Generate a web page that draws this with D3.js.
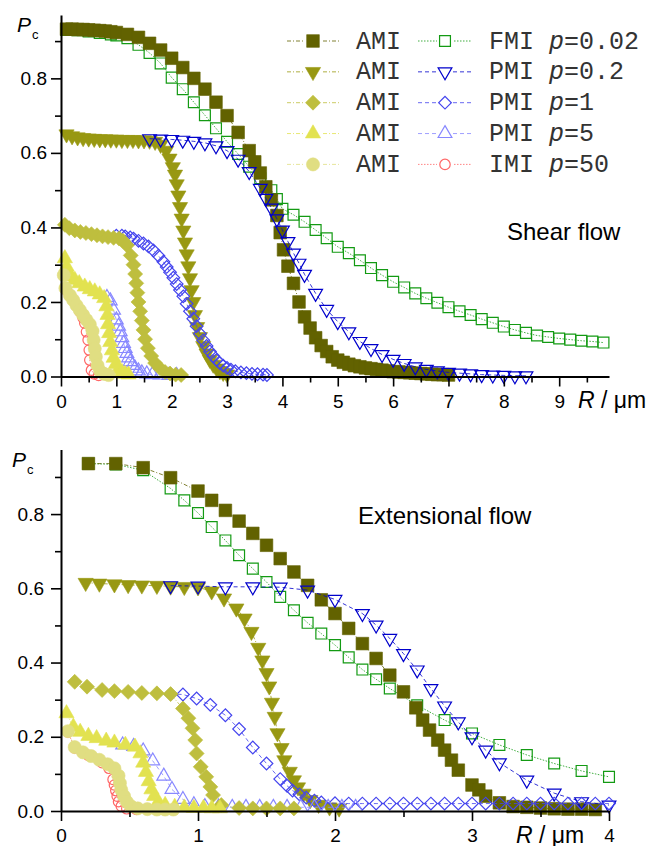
<!DOCTYPE html>
<html>
<head>
<meta charset="utf-8">
<script src="https://cdn.jsdelivr.net/npm/d3@7"></script>
<style>
body { margin: 0; background: #fff; }
text { font-family: "Liberation Sans", Arial, sans-serif; fill: #000; }
</style>
</head>
<body>
<div id="chart"></div>
<script>

// ---- shear flow data, [R (um), Pc] ----
var shearAmiSq = [[0.1,0.932],[0.2,0.932],[0.3,0.931],[0.4,0.931],[0.5,0.930],[0.6,0.929],[0.7,0.928],[0.8,0.927],[0.9,0.925],[1.0,0.923],[1.2,0.918],[1.4,0.910],[1.6,0.894],[1.8,0.876],[2.0,0.854],[2.2,0.829],[2.4,0.800],[2.6,0.771],[2.8,0.736],[3.0,0.700],[3.2,0.655],[3.4,0.606],[3.5,0.576],[3.6,0.546],[3.7,0.509],[3.8,0.474],[3.9,0.432],[3.96,0.386],[4.02,0.340],[4.1,0.296],[4.2,0.250],[4.3,0.200],[4.4,0.160],[4.5,0.130],[4.6,0.104],[4.7,0.083],[4.8,0.067],[4.9,0.053],[5.0,0.044],[5.1,0.038],[5.2,0.033],[5.3,0.029],[5.4,0.026],[5.5,0.023],[5.6,0.021],[5.7,0.019],[5.8,0.017],[5.9,0.015],[6.0,0.013],[6.1,0.012],[6.2,0.011],[6.3,0.010],[6.4,0.009],[6.5,0.008],[6.6,0.007],[6.7,0.006],[6.8,0.005],[6.9,0.005],[7.0,0.004]];
var shearAmiTriDown = [[0.1,0.650],[0.2,0.645],[0.3,0.642],[0.4,0.640],[0.5,0.639],[0.6,0.638],[0.7,0.637],[0.8,0.637],[0.9,0.636],[1.0,0.636],[1.1,0.635],[1.2,0.635],[1.3,0.635],[1.4,0.634],[1.5,0.634],[1.6,0.633],[1.7,0.630],[1.8,0.622],[1.9,0.606],[1.96,0.585],[2.02,0.562],[2.06,0.542],[2.09,0.516],[2.12,0.486],[2.15,0.455],[2.18,0.424],[2.21,0.392],[2.24,0.360],[2.27,0.328],[2.30,0.296],[2.33,0.264],[2.36,0.232],[2.39,0.200],[2.42,0.165],[2.46,0.133],[2.51,0.106],[2.57,0.082],[2.63,0.062],[2.69,0.045],[2.75,0.032],[2.81,0.022],[2.87,0.015],[2.93,0.010],[3.0,0.006]];
var shearAmiDiamond = [[0.07,0.407],[0.15,0.398],[0.25,0.392],[0.35,0.388],[0.45,0.385],[0.55,0.382],[0.65,0.379],[0.75,0.376],[0.85,0.374],[0.95,0.372],[1.05,0.370],[1.12,0.364],[1.19,0.352],[1.26,0.325],[1.31,0.300],[1.34,0.275],[1.36,0.250],[1.38,0.225],[1.40,0.200],[1.43,0.175],[1.46,0.150],[1.49,0.125],[1.52,0.100],[1.57,0.076],[1.63,0.055],[1.70,0.036],[1.79,0.022],[1.88,0.012],[1.97,0.008],[2.07,0.005],[2.17,0.004]];
var shearAmiTriUp = [[0.07,0.317],[0.1,0.295],[0.13,0.281],[0.18,0.268],[0.25,0.259],[0.33,0.250],[0.43,0.241],[0.52,0.234],[0.61,0.228],[0.7,0.220],[0.78,0.210],[0.82,0.188],[0.84,0.165],[0.85,0.140],[0.87,0.116],[0.89,0.092],[0.92,0.070],[0.95,0.050],[0.99,0.033],[1.04,0.020],[1.1,0.012],[1.16,0.007],[1.22,0.005]];
var shearAmiCircle = [[0.05,0.272],[0.08,0.237],[0.16,0.218],[0.22,0.205],[0.28,0.191],[0.34,0.178],[0.40,0.165],[0.46,0.152],[0.52,0.140],[0.57,0.122],[0.59,0.098],[0.61,0.075],[0.63,0.053],[0.66,0.030],[0.71,0.014],[0.78,0.007],[0.86,0.004]];
var shearFmi = [[0.1,0.930],[0.3,0.929],[0.5,0.926],[0.7,0.922],[0.9,0.918],[1.0,0.915],[1.2,0.908],[1.4,0.890],[1.6,0.868],[1.8,0.840],[2.0,0.802],[2.2,0.771],[2.4,0.736],[2.6,0.701],[2.8,0.666],[3.0,0.630],[3.2,0.597],[3.4,0.563],[3.6,0.532],[3.8,0.500],[3.9,0.476],[4.0,0.450],[4.2,0.434],[4.4,0.415],[4.6,0.393],[4.8,0.371],[5.0,0.348],[5.2,0.331],[5.4,0.312],[5.6,0.291],[5.8,0.272],[6.0,0.254],[6.2,0.239],[6.4,0.223],[6.6,0.210],[6.8,0.198],[7.0,0.186],[7.2,0.175],[7.4,0.165],[7.6,0.154],[7.8,0.144],[8.0,0.134],[8.2,0.125],[8.4,0.117],[8.6,0.110],[8.8,0.106],[9.0,0.102],[9.2,0.099],[9.4,0.096],[9.6,0.094],[9.8,0.091]];
var shearPmi02 = [[1.6,0.638],[1.8,0.637],[2.0,0.636],[2.2,0.634],[2.4,0.631],[2.6,0.627],[2.8,0.619],[3.0,0.606],[3.2,0.583],[3.4,0.550],[3.6,0.505],[3.7,0.478],[3.8,0.452],[3.9,0.423],[4.0,0.393],[4.1,0.362],[4.2,0.331],[4.3,0.304],[4.4,0.274],[4.6,0.223],[4.8,0.180],[5.0,0.147],[5.2,0.120],[5.4,0.094],[5.6,0.075],[5.8,0.059],[6.0,0.046],[6.2,0.035],[6.4,0.026],[6.6,0.019],[6.8,0.015],[7.0,0.011],[7.2,0.009],[7.4,0.007],[7.6,0.005],[7.8,0.004],[8.0,0.003],[8.2,0.002],[8.4,0.002]];
var shearPmi1 = [[1.0,0.378],[1.1,0.378],[1.16,0.376],[1.25,0.373],[1.31,0.370],[1.4,0.364],[1.49,0.357],[1.58,0.349],[1.67,0.338],[1.76,0.324],[1.85,0.308],[1.91,0.294],[1.97,0.280],[2.03,0.265],[2.09,0.248],[2.15,0.232],[2.21,0.215],[2.27,0.195],[2.33,0.175],[2.39,0.155],[2.45,0.135],[2.51,0.115],[2.57,0.097],[2.63,0.082],[2.69,0.067],[2.75,0.055],[2.81,0.044],[2.87,0.036],[2.93,0.029],[3.0,0.023],[3.07,0.018],[3.15,0.014],[3.25,0.011],[3.35,0.009],[3.45,0.007],[3.55,0.006],[3.65,0.005],[3.72,0.004]];
var shearPmi5 = [[0.83,0.212],[0.89,0.203],[0.95,0.178],[1.0,0.152],[1.04,0.135],[1.07,0.120],[1.10,0.104],[1.13,0.089],[1.16,0.075],[1.19,0.062],[1.22,0.050],[1.25,0.040],[1.29,0.030],[1.34,0.022],[1.40,0.015],[1.46,0.010],[1.55,0.007],[1.65,0.005],[1.79,0.004],[1.95,0.003],[2.09,0.003]];
var shearImi = [[0.1,0.232],[0.16,0.218],[0.22,0.205],[0.28,0.190],[0.34,0.175],[0.40,0.157],[0.43,0.143],[0.46,0.120],[0.49,0.098],[0.51,0.071],[0.52,0.044],[0.55,0.017],[0.60,0.007],[0.68,0.003]];

// ---- extensional flow data, [R (um), Pc] ----
var extAmiSq = [[0.2,0.936],[0.4,0.936],[0.6,0.925],[0.8,0.898],[1.0,0.862],[1.1,0.837],[1.2,0.810],[1.3,0.781],[1.4,0.748],[1.5,0.716],[1.6,0.680],[1.7,0.644],[1.8,0.608],[1.9,0.569],[2.0,0.532],[2.1,0.492],[2.2,0.451],[2.3,0.411],[2.4,0.366],[2.5,0.321],[2.59,0.278],[2.64,0.245],[2.69,0.218],[2.75,0.191],[2.8,0.164],[2.85,0.137],[2.9,0.110],[3.0,0.070],[3.05,0.057],[3.1,0.040],[3.2,0.022],[3.3,0.012],[3.4,0.010],[3.5,0.008],[3.6,0.006],[3.7,0.005],[3.8,0.005],[3.9,0.004]];
var extAmiTriDown = [[0.18,0.615],[0.28,0.613],[0.39,0.611],[0.49,0.609],[0.59,0.608],[0.7,0.607],[0.8,0.605],[0.9,0.604],[1.0,0.603],[1.1,0.592],[1.19,0.573],[1.28,0.546],[1.34,0.519],[1.39,0.483],[1.44,0.440],[1.47,0.406],[1.50,0.372],[1.52,0.336],[1.54,0.292],[1.56,0.254],[1.58,0.210],[1.61,0.170],[1.63,0.137],[1.67,0.106],[1.70,0.083],[1.73,0.064],[1.77,0.047],[1.82,0.030],[1.88,0.017],[1.96,0.010],[2.03,0.007]];
var extAmiDiamond = [[0.1,0.348],[0.19,0.335],[0.3,0.326],[0.39,0.323],[0.49,0.321],[0.59,0.318],[0.7,0.317],[0.8,0.315],[0.89,0.276],[0.93,0.250],[0.96,0.223],[0.98,0.191],[0.99,0.155],[1.02,0.119],[1.06,0.092],[1.09,0.065],[1.11,0.043],[1.17,0.016],[1.3,0.008],[1.4,0.007],[1.5,0.007],[1.6,0.007],[1.7,0.007]];
var extAmiTriUp = [[0.04,0.263],[0.09,0.227],[0.14,0.213],[0.2,0.202],[0.26,0.196],[0.33,0.189],[0.39,0.184],[0.47,0.178],[0.54,0.173],[0.58,0.155],[0.6,0.130],[0.62,0.105],[0.64,0.080],[0.66,0.058],[0.68,0.040],[0.71,0.025],[0.76,0.016],[0.83,0.011],[0.9,0.009],[0.97,0.008],[1.04,0.008],[1.1,0.007],[1.16,0.007]];
var extAmiCircle = [[0.05,0.215],[0.1,0.172],[0.16,0.158],[0.22,0.148],[0.28,0.138],[0.34,0.126],[0.39,0.115],[0.42,0.095],[0.43,0.075],[0.44,0.057],[0.46,0.040],[0.48,0.025],[0.51,0.013],[0.56,0.007],[0.63,0.005],[0.7,0.004],[0.76,0.004],[0.82,0.004]];
var extFmi = [[0.2,0.936],[0.4,0.934],[0.6,0.918],[0.8,0.869],[0.9,0.837],[1.0,0.803],[1.1,0.765],[1.2,0.729],[1.3,0.689],[1.4,0.653],[1.5,0.617],[1.6,0.577],[1.7,0.541],[1.8,0.507],[1.9,0.478],[2.0,0.447],[2.1,0.414],[2.2,0.381],[2.3,0.355],[2.4,0.330],[2.6,0.285],[2.8,0.245],[3.0,0.209],[3.2,0.178],[3.4,0.151],[3.6,0.128],[3.8,0.108],[4.0,0.092]];
var extPmi02 = [[0.8,0.607],[1.0,0.606],[1.2,0.604],[1.4,0.604],[1.6,0.603],[1.8,0.595],[2.0,0.570],[2.2,0.532],[2.3,0.501],[2.4,0.465],[2.5,0.424],[2.6,0.380],[2.7,0.330],[2.8,0.283],[2.9,0.240],[3.0,0.200],[3.1,0.164],[3.2,0.130],[3.4,0.083],[3.6,0.048],[3.8,0.025],[4.0,0.016]];
var extPmi1 = [[0.8,0.315],[0.89,0.314],[0.99,0.303],[1.09,0.286],[1.2,0.258],[1.3,0.221],[1.4,0.171],[1.5,0.128],[1.6,0.086],[1.65,0.068],[1.69,0.055],[1.74,0.045],[1.79,0.036],[1.85,0.028],[1.9,0.023],[2.0,0.021],[2.1,0.020],[2.2,0.020],[2.3,0.020],[2.4,0.020],[2.5,0.020],[2.6,0.020],[2.7,0.020],[2.8,0.020],[2.9,0.020],[3.0,0.020],[3.1,0.020],[3.2,0.020],[3.3,0.020],[3.4,0.020],[3.5,0.020],[3.6,0.020],[3.7,0.020],[3.8,0.020],[3.9,0.020],[4.0,0.020]];
var extPmi5 = [[0.45,0.178],[0.53,0.174],[0.6,0.162],[0.67,0.135],[0.75,0.094],[0.81,0.058],[0.89,0.031],[0.97,0.017],[1.05,0.012],[1.15,0.011],[1.25,0.010],[1.35,0.010],[1.45,0.010],[1.55,0.010],[1.65,0.010],[1.75,0.010],[1.85,0.010],[1.95,0.010],[2.05,0.010],[2.15,0.010]];
var extImi = [[0.05,0.213],[0.1,0.170],[0.2,0.150],[0.3,0.130],[0.35,0.115],[0.38,0.085],[0.39,0.070],[0.40,0.055],[0.41,0.040],[0.42,0.025],[0.44,0.013],[0.48,0.006],[0.55,0.004]];

// ---- ticks and labels ----
var yTicks = [0, 0.2, 0.4, 0.6, 0.8];
var yMinorTicks = [0.1, 0.3, 0.5, 0.7, 0.9];
var shearXTicks = [0, 1, 2, 3, 4, 5, 6, 7, 8, 9];
var shearXMinor = [0.5, 1.5, 2.5, 3.5, 4.5, 5.5, 6.5, 7.5, 8.5, 9.5];
var extXTicks = [0, 1, 2, 3, 4];
var extXMinor = [0.5, 1.5, 2.5, 3.5];
var legendModels = ["AMI", "AMI", "AMI", "AMI", "AMI"];
var legendRight = ["FMI", "PMI", "PMI", "PMI", "IMI"];
var legendP = ["0.02", "0.2", "1", "5", "50"];

// marker / line styles
var styles = {
  amiSq:     { color: "#626200", shape: "square",   rot: 0,   size: 160, filled: true,  dash: "4,2,1,2" },
  amiTriDn:  { color: "#989812", shape: "triangle", rot: 180, size: 100, filled: true,  dash: "4,2,1,2" },
  amiDia:    { color: "#bebe3e", shape: "square",   rot: 45,  size: 112, filled: true,  dash: "4,2,1,2" },
  amiTriUp:  { color: "#e2e250", shape: "triangle", rot: 0,   size: 100, filled: true,  dash: "4,2,1,2" },
  amiCirc:   { color: "#e0de82", shape: "circle",   rot: 0,   size: 135, filled: true,  dash: "4,2,1,2" },
  fmi:       { color: "#139a13", shape: "square",   rot: 0,   size: 118, filled: false, dash: "1.5,1.5" },
  pmi02:     { color: "#0000cc", shape: "triangle", rot: 180, size: 82,  filled: false, dash: "4,3" },
  pmi1:      { color: "#4444ee", shape: "square",   rot: 45,  size: 80,  filled: false, dash: "4,3" },
  pmi5:      { color: "#8888ff", shape: "triangle", rot: 0,   size: 82,  filled: false, dash: "4,3" },
  imi:       { color: "#ff6666", shape: "circle",   rot: 0,   size: 85,  filled: false, dash: "1.5,1.5" }
};
var legendLeftKeys = ["amiSq", "amiTriDn", "amiDia", "amiTriUp", "amiCirc"];
var legendRightKeys = ["fmi", "pmi02", "pmi1", "pmi5", "imi"];

var symbolTypes = { square: d3.symbolSquare, triangle: d3.symbolTriangle, circle: d3.symbolCircle };

var svg = d3.select("#chart").append("svg")
  .attr("width", 649)
  .attr("height", 846);

function addMarkers(g, pts, st, x, y) {
  var path = d3.symbol().type(symbolTypes[st.shape]).size(st.size)();
  g.append("path")
    .datum(pts)
    .attr("fill", "none")
    .attr("stroke", st.color)
    .attr("stroke-opacity", 0.8)
    .attr("stroke-width", 1)
    .attr("stroke-dasharray", st.dash)
    .attr("d", d3.line().x(d => x(d[0])).y(d => y(d[1])));
  g.selectAll(null)
    .data(pts)
    .enter()
    .append("path")
    .attr("d", path)
    .attr("transform", d => "translate(" + x(d[0]) + "," + y(d[1]) + ") rotate(" + st.rot + ")")
    .attr("fill", st.filled ? st.color : "none")
    .attr("stroke", st.color)
    .attr("stroke-width", st.filled ? 0.6 : 1.2);
}

function drawPanel(opt) {
  var x = d3.scaleLinear().domain([0, opt.xMax]).range([61, 609]);
  var y = d3.scaleLinear().domain([0, opt.yMax]).range([opt.y0, opt.yTop]);
  var g = svg.append("g");

  // series, drawn back to front
  opt.series.forEach(function (s) {
    addMarkers(g, s[0], styles[s[1]], x, y);
  });

  // minor ticks first, then major axes
  g.append("g")
    .attr("transform", "translate(61,0)")
    .call(d3.axisLeft(y).tickValues(yMinorTicks).tickSize(6).tickSizeOuter(0).tickFormat(""))
    .call(a => a.select(".domain").remove());
  g.append("g")
    .attr("transform", "translate(61,0)")
    .call(d3.axisLeft(y).tickValues(yTicks).tickSize(10).tickSizeOuter(0).tickPadding(opt.yPad).tickFormat(d3.format(".1f")));
  g.append("g")
    .attr("transform", "translate(0," + opt.y0 + ")")
    .call(d3.axisBottom(x).tickValues(opt.xMinor).tickSize(6).tickSizeOuter(0).tickFormat(""))
    .call(a => a.select(".domain").remove());
  g.append("g")
    .attr("transform", "translate(0," + opt.y0 + ")")
    .call(d3.axisBottom(x).tickValues(opt.xTicks).tickSize(10).tickSizeOuter(0).tickPadding(8).tickFormat(d3.format("d")));

  g.selectAll(".tick line").attr("stroke-width", 1.6);
  g.selectAll(".domain").attr("stroke-width", 2);
  g.selectAll(".tick text").attr("font-size", 19).attr("font-family", "'Liberation Sans', Arial, sans-serif");

  // axis titles
  var pc = g.append("text").attr("x", opt.pX).attr("y", opt.pY).attr("font-size", 21);
  pc.append("tspan").attr("font-style", "italic").text("P");
  pc.append("tspan").attr("font-size", 13).attr("dx", 1).attr("dy", 7).text("c");

  var rl = g.append("text").attr("x", opt.rX).attr("y", opt.y0 + 31.5).attr("font-size", 23);
  rl.append("tspan").attr("font-style", "italic").text("R");
  rl.append("tspan").text(" / \u03bcm");

  g.append("text")
    .attr("x", opt.titleX)
    .attr("y", opt.titleY)
    .attr("font-size", 24)
    .text(opt.title);
}

drawPanel({
  xMax: 9.9, yMax: 0.97, y0: 376.5, yTop: 15, yPad: 4,
  xTicks: shearXTicks, xMinor: shearXMinor,
  pX: 17, pY: 32, rX: 578,
  title: "Shear flow", titleX: 507, titleY: 240,
  series: [[shearFmi, "fmi"], [shearAmiSq, "amiSq"], [shearAmiTriDown, "amiTriDn"], [shearPmi02, "pmi02"],
           [shearImi, "imi"], [shearPmi1, "pmi1"], [shearPmi5, "pmi5"], [shearAmiDiamond, "amiDia"],
           [shearAmiTriUp, "amiTriUp"], [shearAmiCircle, "amiCirc"]]
});

drawPanel({
  xMax: 4, yMax: 0.974, y0: 811, yTop: 449.5, yPad: 7,
  xTicks: extXTicks, xMinor: extXMinor,
  pX: 12, pY: 467, rX: 516,
  title: "Extensional flow", titleX: 358, titleY: 524,
  series: [[extFmi, "fmi"], [extAmiSq, "amiSq"], [extAmiTriDown, "amiTriDn"], [extPmi02, "pmi02"],
           [extImi, "imi"], [extPmi1, "pmi1"], [extPmi5, "pmi5"], [extAmiDiamond, "amiDia"],
           [extAmiTriUp, "amiTriUp"], [extAmiCircle, "amiCirc"]]
});

// legend in the shear panel
var leg = svg.append("g");
legendModels.forEach(function (m, i) {
  var cy = 41 + i * 30.85;
  [[legendLeftKeys[i], 287, 340, 313, 356, m, null], [legendRightKeys[i], 418, 472, 445, 489, legendRight[i], legendP[i]]].forEach(function (c) {
    var st = styles[c[0]];
    leg.append("line")
      .attr("x1", c[1]).attr("x2", c[2]).attr("y1", cy).attr("y2", cy)
      .attr("stroke", st.color).attr("stroke-opacity", 0.8).attr("stroke-width", 1)
      .attr("stroke-dasharray", st.dash);
    leg.append("rect")
      .attr("x", c[3] - 8).attr("y", cy - 8).attr("width", 16).attr("height", 16)
      .attr("fill", "#fff");
    leg.append("path")
      .attr("d", d3.symbol().type(symbolTypes[st.shape]).size(st.size)())
      .attr("transform", "translate(" + c[3] + "," + cy + ") rotate(" + st.rot + ")")
      .attr("fill", st.filled ? st.color : "none")
      .attr("stroke", st.color)
      .attr("stroke-width", st.filled ? 0.6 : 1.2);
    var t = leg.append("text")
      .attr("x", c[4]).attr("y", cy + 7.5)
      .attr("font-size", 25)
      .style("font-family", "'Liberation Mono', 'Courier New', monospace")
      .style("fill", "#333");
    t.append("tspan").text(c[5]);
    if (c[6] !== null) {
      t.append("tspan").text(" ");
      t.append("tspan").attr("font-style", "italic").text("p");
      t.append("tspan").text("=" + c[6]);
    }
  });
});

</script>
</body>
</html>
